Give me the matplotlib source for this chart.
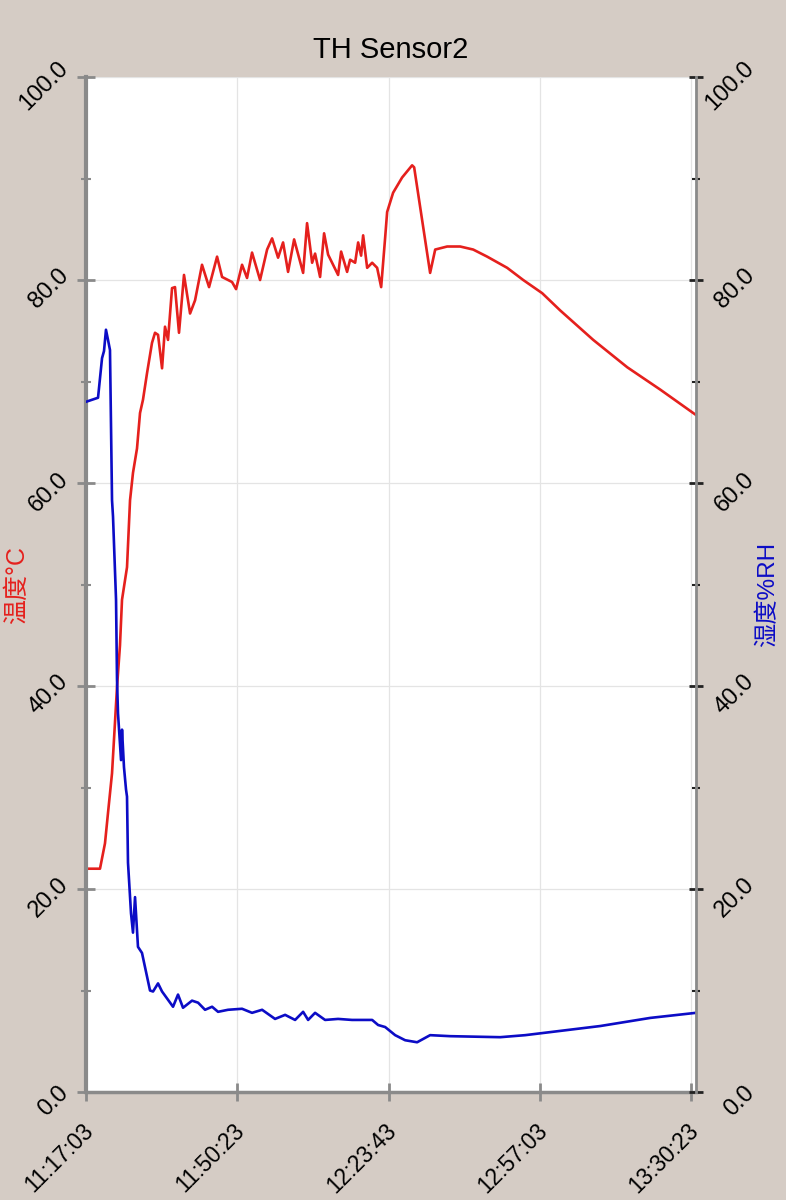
import matplotlib
matplotlib.use('Agg')
import matplotlib.pyplot as plt
import matplotlib.transforms as mtransforms
from matplotlib.ticker import MultipleLocator, FormatStrFormatter

plt.rcParams['font.family'] = ['Liberation Sans', 'Noto Sans CJK SC', 'DejaVu Sans']

# ---------------- data ----------------
title = 'TH Sensor2'
temp_label = '温度°C'
rh_label = '湿度%RH'

x_tick_seconds = [0, 2000, 4000, 6000, 8000]
x_tick_labels = ['11:17:03', '11:50:23', '12:23:43', '12:57:03', '13:30:23']

# seconds since 11:17:03
temp_t = [0, 185, 251, 291, 344, 383, 410, 449, 476, 542, 582, 621, 674, 714, 753,
          806, 872, 912, 952, 1005, 1044, 1084, 1137, 1176, 1229, 1295, 1375, 1441,
          1533, 1626, 1732, 1798, 1930, 1983, 2062, 2128, 2194, 2300, 2393, 2459,
          2538, 2604, 2670, 2750, 2869, 2921, 2988, 3027, 3093, 3146, 3199, 3331,
          3371, 3450, 3490, 3556, 3596, 3635, 3662, 3715, 3781, 3847, 3900, 3953,
          3979, 4058, 4177, 4309, 4336, 4547, 4614, 4772, 4944, 5116, 5301, 5565,
          5777, 6028, 6266, 6702, 7152, 7588, 8060]
temp_v = [22.0, 22.0, 24.5, 27.5, 31.4, 36.4, 39.9, 44.0, 48.5, 51.7, 58.3, 61.0,
          63.4, 66.9, 68.2, 70.8, 73.8, 74.8, 74.6, 71.3, 75.4, 74.1, 79.2, 79.3,
          74.8, 80.5, 76.7, 78.0, 81.5, 79.3, 82.3, 80.3, 79.8, 79.1, 81.5, 80.2,
          82.7, 80.0, 83.0, 84.1, 82.2, 83.7, 80.8, 84.0, 80.7, 85.6, 81.7, 82.6,
          80.3, 84.6, 82.5, 80.5, 82.8, 80.8, 82.0, 81.7, 83.7, 82.4, 84.4, 81.2,
          81.7, 81.2, 79.3, 84.2, 86.7, 88.6, 90.1, 91.3, 91.1, 80.7, 83.0, 83.3,
          83.3, 83.0, 82.3, 81.2, 80.0, 78.7, 77.0, 74.1, 71.4, 69.2, 66.7]

rh_t = [0, 159, 212, 238, 264, 291, 317, 344, 357, 397, 410, 423, 463, 476, 502,
        529, 542, 555, 595, 621, 648, 687, 740, 780, 846, 886, 952, 1005, 1150,
        1216, 1282, 1401, 1481, 1573, 1666, 1745, 1877, 2062, 2194, 2327, 2498,
        2631, 2763, 2869, 2935, 3027, 3159, 3331, 3516, 3649, 3781, 3860, 3953,
        4085, 4217, 4375, 4547, 4812, 5473, 5803, 6134, 6795, 7456, 8060]
rh_v = [68.0, 68.4, 72.3, 73.0, 75.1, 74.1, 73.1, 58.3, 56.7, 48.5, 40.6, 37.3,
        32.7, 35.7, 32.0, 29.8, 29.1, 22.6, 17.6, 15.7, 19.2, 14.3, 13.7, 12.3,
        10.0, 9.9, 10.7, 9.9, 8.4, 9.6, 8.3, 9.0, 8.8, 8.1, 8.4, 7.9, 8.1, 8.2,
        7.8, 8.1, 7.2, 7.6, 7.1, 7.9, 7.1, 7.8, 7.1, 7.2, 7.1, 7.1, 7.1, 6.6, 6.4,
        5.6, 5.1, 4.9, 5.6, 5.5, 5.4, 5.6, 5.9, 6.5, 7.3, 7.8]

# ---------------- figure ----------------
bg = '#d5ccc5'
spine_gray = '#8a8a8a'
red = '#e5201d'
blue = '#0c0cc6'

fig = plt.figure(figsize=(7.86, 12), dpi=100, facecolor=bg)
ax = fig.add_axes([0.1094, 0.09, 0.7761, 0.84583])
ax.set_facecolor('white')
ax2 = ax.twinx()

ax.plot(temp_t, temp_v, color=red, lw=1.9, solid_joinstyle='round')
ax2.plot(rh_t, rh_v, color=blue, lw=1.9, solid_joinstyle='round')

ax.set_xlim(0, 8060)
ax.set_ylim(0, 100)
ax2.set_ylim(0, 100)

ax.set_axisbelow(True)
ax.grid(True, which='major', color='#e4e4e4', lw=0.9)

# y axes ticks
for a in (ax, ax2):
    a.yaxis.set_major_locator(MultipleLocator(20))
    a.yaxis.set_minor_locator(MultipleLocator(10))
    a.yaxis.set_major_formatter(FormatStrFormatter('%.1f'))

ax.tick_params(axis='y', which='major', direction='inout', length=13, width=2,
               color=spine_gray, labelsize=17, pad=3)
ax.tick_params(axis='y', which='minor', direction='inout', length=7, width=1.5,
               color=spine_gray)
ax2.tick_params(axis='y', which='major', direction='inout', length=10, width=2,
                color='#222222', labelsize=17, pad=40)
ax2.tick_params(axis='y', which='minor', direction='inout', length=6, width=1.5,
                color='#222222')

down = mtransforms.ScaledTranslation(0, -0.09, fig.dpi_scale_trans)
for lbl in ax.get_yticklabels() + ax2.get_yticklabels():
    lbl.set_rotation(45)
    lbl.set_ha('right')
    lbl.set_va('center')
    lbl.set_transform(lbl.get_transform() + down)

# x axis ticks
ax.set_xticks(x_tick_seconds)
ax.set_xticklabels(x_tick_labels)
ax.tick_params(axis='x', which='major', direction='inout', length=13, width=2,
               color=spine_gray, labelsize=16.3, pad=13)
offset = mtransforms.ScaledTranslation(0.12, 0, fig.dpi_scale_trans)
for lbl in ax.get_xticklabels():
    lbl.set_rotation(45)
    lbl.set_ha('right')
    lbl.set_va('top')
    lbl.set_transform(lbl.get_transform() + offset)

# spines
ax.spines['top'].set_visible(False)
ax.spines['right'].set_visible(False)
ax.spines['left'].set_color(spine_gray)
ax.spines['left'].set_linewidth(3)
ax.spines['bottom'].set_color(spine_gray)
ax.spines['bottom'].set_linewidth(2.5)
ax2.spines['top'].set_visible(False)
ax2.spines['left'].set_visible(False)
ax2.spines['bottom'].set_visible(False)
ax2.spines['right'].set_color(spine_gray)
ax2.spines['right'].set_linewidth(2)

# labels
ax.set_ylabel(temp_label, color=red, fontsize=18)
ax.yaxis.set_label_coords(-0.093, 0.5)
ax2.set_ylabel(rh_label, color=blue, fontsize=17.5)
ax2.yaxis.set_label_coords(1.10, 0.49)

ax.set_title(title, fontsize=21, pad=14)

fig.savefig('out.png', dpi=100, facecolor=bg)
